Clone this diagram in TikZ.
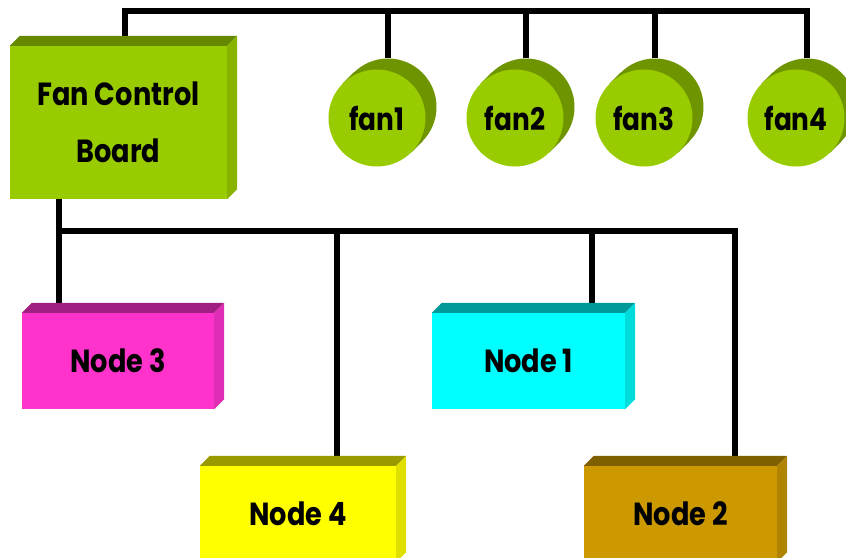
\documentclass[tikz,border=0pt]{standalone}
\usepackage{fontspec}
\setmainfont{Poppins}[FakeStretch=0.85]
\usetikzlibrary{backgrounds}
\definecolor{boardgreen}{HTML}{99CC00}
\definecolor{boardtop}{HTML}{668800}
\definecolor{boardside}{HTML}{88B400}
\definecolor{fandark}{HTML}{6E9400}
\definecolor{magentafront}{HTML}{FF33CC}
\definecolor{magentatop}{HTML}{A01F80}
\definecolor{magentaside}{HTML}{E02DB5}
\definecolor{cyanfront}{HTML}{00FFFF}
\definecolor{cyantop}{HTML}{009999}
\definecolor{cyanside}{HTML}{00DCDC}
\definecolor{yellowfront}{HTML}{FFFF00}
\definecolor{yellowtop}{HTML}{999900}
\definecolor{yellowside}{HTML}{E0E000}
\definecolor{goldfront}{HTML}{CC9900}
\definecolor{goldtop}{HTML}{7F5F00}
\definecolor{goldside}{HTML}{B08400}
% top and right faces of a box node
\newcommand{\sidefaces}[3]{%
  \fill[#2] (#1.north west) -- ++(10pt,10pt) -- ([shift={(10pt,10pt)}]#1.north east) -- (#1.north east) -- cycle;
  \fill[#3] (#1.north east) -- ++(10pt,10pt) -- ([shift={(10pt,10pt)}]#1.south east) -- (#1.south east) -- cycle;}
% dark back of a fan
\newcommand{\fanhull}[1]{%
  \fill[fandark] (#1.135) -- ++(-11pt,-11pt) -- ([shift={(-11pt,-11pt)}]#1.315) -- (#1.315) -- cycle;}
\begin{document}
\begin{tikzpicture}[x=1pt,y=-1pt]
      \tikzset{box/.style={inner sep=0pt, align=center, font=\fontsize{32}{57}\selectfont\bfseries},
               fan/.style={circle, inner sep=0pt, minimum size=97pt, fill=boardgreen, font=\fontsize{31}{36}\selectfont\bfseries},
               fanback/.style={circle, inner sep=0pt, minimum size=97pt, fill=fandark},
               bus/.style={line width=6pt, line join=miter}}
      \useasboundingbox (0,0) rectangle (846,557);
      \clip (0,0) rectangle (846,557);
%% Boxes
      \node[box, fill=boardgreen, minimum width=217pt, minimum height=153pt] (fcb) at (118.5,122.5) {Fan Control\\Board};
      \sidefaces{fcb}{boardtop}{boardside}
      \node[box, fill=magentafront, minimum width=192pt, minimum height=96pt] (n3) at (118,361) {Node 3};
      \sidefaces{n3}{magentatop}{magentaside}
      \node[box, fill=cyanfront, minimum width=193pt, minimum height=96pt] (n1) at (528.5,361) {Node 1};
      \sidefaces{n1}{cyantop}{cyanside}
      \node[box, fill=yellowfront, minimum width=196pt, minimum height=96pt] (n4) at (298,514) {Node 4};
      \sidefaces{n4}{yellowtop}{yellowside}
      \node[box, fill=goldfront, minimum width=193pt, minimum height=96pt] (n2) at (680.5,514) {Node 2};
      \sidefaces{n2}{goldtop}{goldside}
%% Fans
      \node[fanback] (f1b) at (388,107) {};
      \fanhull{f1b}
      \node[fan] (f1) at (377,118) {fan1};
      \node[fanback] (f2b) at (526,107) {};
      \fanhull{f2b}
      \node[fan] (f2) at (515,118) {fan2};
      \node[fanback] (f3b) at (655,107) {};
      \fanhull{f3b}
      \node[fan] (f3) at (644,118) {fan3};
      \node[fanback] (f4b) at (807,107) {};
      \fanhull{f4b}
      \node[fan] (f4) at (796,118) {fan4};
%% Bus lines
      \coordinate (t0) at (125,11);
      \coordinate (b0) at (59,231);
      \coordinate (b1) at (735,231);
      \coordinate (b4) at (337,231);
      \coordinate (b2) at (592,231);
      \begin{scope}[on background layer]
	%fans
		\draw[bus] (t0 |- fcb.north) -- (t0) -- (t0 -| f4b.north) -- (f4b.north);
		\draw[bus] (f1b.north |- t0) -- (f1b.north);
		\draw[bus] (f2b.north |- t0) -- (f2b.north);
		\draw[bus] (f3b.north |- t0) -- (f3b.north);
	%nodes
		\draw[bus] (b0 |- fcb.south) -- (b0) -- (b1) -- (b1 |- n2.north);
		\draw[bus] (b0) -- (b0 |- n3.north);
		\draw[bus] (b4) -- (b4 |- n4.north);
		\draw[bus] (b2) -- (b2 |- n1.north);
      \end{scope}
\end{tikzpicture}
\end{document}
